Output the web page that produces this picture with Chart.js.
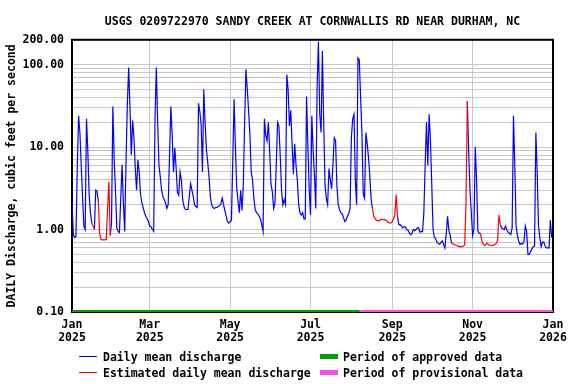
<!DOCTYPE html>
<html>
<head>
<meta charset="utf-8">
<script src="https://cdn.jsdelivr.net/npm/chart.js@4.4.1/dist/chart.umd.min.js"></script>
<style>
  body { margin: 0; background: #fff; }
  #wrap { position: relative; width: 576px; height: 384px; }
  #legend { position: absolute; left: 0; top: 0; width: 576px; height: 384px; pointer-events: none;
            font: bold 11.5px 'DejaVu Sans Mono', monospace; color: #000; }
  .item { position: absolute; height: 16px; line-height: 16px; white-space: pre; }
  .swatch { position: absolute; width: 18px; }
</style>
</head>
<body>
<div id="wrap">
  <canvas id="graph" width="576" height="384"></canvas>
  <div id="legend"></div>
</div>
<script>
var titleText = "USGS 0209722970 SANDY CREEK AT CORNWALLIS RD NEAR DURHAM, NC";
var yAxisTitle = "DAILY Discharge, cubic feet per second";

// daily mean discharge, cfs, Jan 1 2025 .. Dec 31 2025 (day 0 = Jan 1)
var dailyFlow = [
    2.2, 0.87, 0.8, 0.83, 5.5, 24, 15, 6, 2.5, 1.1,
    1.0, 22, 9, 2.7, 1.6, 1.2, 1.1, 1.0, 3.0, 2.9,
    2.2, 0.9, 0.76, 0.75, 0.75, 0.75, 0.76, 1.8, 3.8, 0.85,
    1.2, 31, 7, 3.0, 1.05, 0.95, 0.92, 2.4, 6.1, 2.1,
    0.95, 6.8, 33, 92, 30, 8, 21, 13, 5.6, 3.0,
    7, 5, 2.7, 2.1, 1.85, 1.6, 1.45, 1.35, 1.25, 1.1,
    1.08, 1.0, 0.95, 22, 92, 20, 6, 4.3, 3.0, 2.5,
    2.3, 2.1, 1.8, 2.0, 7.8, 31, 14, 5, 9.8, 5.6,
    2.8, 2.6, 5, 4.0, 2.3, 1.9, 1.75, 1.75, 1.75, 2.5,
    3.6, 3.0, 2.5, 2.0, 1.9, 1.85, 34, 27, 19, 5,
    50, 20, 9.4, 6.5, 4.3, 2.5, 2.0, 1.85, 1.8, 1.85,
    1.85, 1.9, 1.95, 2.05, 2.4, 2.0, 1.7, 1.45, 1.25, 1.2,
    1.25, 1.3, 7, 38, 10, 3.2, 2.2, 1.6, 3.0, 1.7,
    3.5, 20, 88, 50, 28, 14, 5.0, 4.0, 2.4, 1.75,
    1.6, 1.55, 1.45, 1.35, 1.15, 0.95, 22, 14, 12, 20,
    9, 3.5, 2.9, 1.8, 2.1, 6, 20, 18, 8, 3,
    2.0, 2.3, 2.0, 76, 50, 18, 28, 11, 4.7, 11,
    6, 4, 2.0, 1.6, 1.5, 1.6, 1.35, 1.35, 41, 10,
    3, 1.5, 24, 9, 4.5, 1.8, 55, 190, 25, 15,
    146, 20, 3.5, 2.4, 2.0, 5.5, 4, 3.1, 6, 13,
    12, 3.5, 2.0, 1.75, 1.6, 1.55, 1.4, 1.25, 1.3, 1.45,
    1.55, 1.8, 13, 22, 25, 4, 2.0, 121, 115, 40,
    15, 2.7, 2.4, 15, 11, 7.5, 4.5, 2.3, 1.8, 1.45,
    1.35, 1.3, 1.28, 1.27, 1.32, 1.33, 1.32, 1.32, 1.3, 1.27,
    1.22, 1.2, 1.2, 1.25, 1.35, 1.5, 2.66, 1.45, 1.15, 1.15,
    1.1, 1.05, 1.08, 1.08, 1.0, 0.98, 0.91, 0.87, 0.9, 1.0,
    0.97, 1.0, 1.05, 1.05, 0.93, 0.95, 0.94, 1.6, 6, 20,
    6, 25, 12, 3.5, 1.0, 0.8, 0.77, 0.7, 0.68, 0.66,
    0.7, 0.73, 0.66, 0.6, 0.9, 1.45, 0.97, 0.85, 0.68, 0.67,
    0.66, 0.65, 0.64, 0.63, 0.62, 0.62, 0.62, 0.63, 0.65, 2.2,
    36, 9, 3.0, 1.6, 0.85, 1.0, 10, 4.0, 0.95, 0.9,
    0.9, 0.72, 0.67, 0.64, 0.66, 0.68, 0.66, 0.64, 0.64, 0.64,
    0.65, 0.66, 0.68, 0.75, 1.5, 1.15, 1.05, 1.02, 1.0, 1.1,
    0.98, 0.93, 0.9, 0.87, 1.05, 24, 6, 1.1, 0.85, 0.72,
    0.66, 0.68, 0.67, 0.72, 1.1, 0.95, 0.5, 0.5, 0.54, 0.58,
    0.62, 0.63, 15, 5, 1.1, 0.8, 0.62, 0.7, 0.71, 0.63,
    0.6, 0.6, 0.6, 1.3, 0.8
];

// day ranges (inclusive) where the daily value is estimated
var estimatedRanges = [[15, 17], [20, 29], [228, 247], [288, 300], [310, 325]];

var approvedPeriod = [0, 218];
var provisionalPeriod = [218, 365];

var monthTickDays = [0, 59, 120, 181, 243, 304, 365];
var monthTickLabels = [["Jan", "2025"], ["Mar", "2025"], ["May", "2025"], ["Jul", "2025"],
                       ["Sep", "2025"], ["Nov", "2025"], ["Jan", "2026"]];

var yLabelValues = [0.1, 1, 10, 100, 200];

var legendItems = [
    { text: "Daily mean discharge", color: "#0000ff", thick: false, left: 79, top: 349 },
    { text: "Estimated daily mean discharge", color: "#ff0000", thick: false, left: 79, top: 365 },
    { text: "Period of approved data", color: "#00a000", thick: true, left: 320, top: 349 },
    { text: "Period of provisional data", color: "#ff4fe0", thick: true, left: 320, top: 365 }
];

var FONT = "'DejaVu Sans Mono', monospace";

function inRange(i, strict) {
    for (var k = 0; k < estimatedRanges.length; k++) {
        var r = estimatedRanges[k];
        if (strict ? (i > r[0] && i < r[1]) : (i >= r[0] && i <= r[1])) return true;
    }
    return false;
}

var blueData = dailyFlow.map(function(v, i) { return { x: i, y: inRange(i, true) ? null : v }; });
var redData = dailyFlow.map(function(v, i) { return { x: i, y: inRange(i, false) ? v : null }; });

function yGridValues() {
    var out = [];
    for (var e = -1; e <= 1; e++) {
        for (var m = 1; m <= 9; m++) out.push(+(m * Math.pow(10, e)).toFixed(4));
    }
    out.push(100, 200);
    return out;
}

var framePlugin = {
    id: "frame",
    afterLayout: function(chart) {
        // centre the title over the plot, like the reference
        if (chart.titleBlock) {
            chart.titleBlock.left = chart.chartArea.left;
            chart.titleBlock.right = chart.chartArea.right;
        }
    },
    beforeDatasetsDraw: function(chart) {
        var a = chart.chartArea, ctx = chart.ctx;
        ctx.save();
        ctx.strokeStyle = "#000";
        ctx.lineWidth = 2;
        ctx.strokeRect(a.left, a.top, a.right - a.left, a.bottom - a.top);
        ctx.restore();
    }
};

Chart.defaults.font.family = FONT;
Chart.defaults.font.weight = "bold";
Chart.defaults.font.size = 11.5;
Chart.defaults.color = "#000";

var chart = new Chart(document.getElementById("graph").getContext("2d"), {
    type: "line",
    data: {
        datasets: [
            { label: "Estimated daily mean discharge", data: redData, borderColor: "#ff0000",
              borderWidth: 1.2, pointRadius: 0, tension: 0, spanGaps: false },
            { label: "Daily mean discharge", data: blueData, borderColor: "#0000ff",
              borderWidth: 1.2, pointRadius: 0, tension: 0, spanGaps: false },
            { label: "Period of approved data", data: [{ x: approvedPeriod[0], y: 0.1 }, { x: approvedPeriod[1], y: 0.1 }],
              borderColor: "#00a000", borderWidth: 4, pointRadius: 0 },
            { label: "Period of provisional data", data: [{ x: provisionalPeriod[0], y: 0.1 }, { x: provisionalPeriod[1], y: 0.1 }],
              borderColor: "#ff4fe0", borderWidth: 4, pointRadius: 0 }
        ]
    },
    options: {
        responsive: false,
        animation: false,
        layout: { padding: { left: 0, right: 23, top: 0, bottom: 32 } },
        plugins: {
            legend: { display: false },
            tooltip: { enabled: false },
            title: {
                display: true,
                text: titleText,
                color: "#000",
                font: { family: FONT, size: 11.5, weight: "bold", lineHeight: 1.2 },
                padding: { top: 15, bottom: 11 }
            }
        },
        scales: {
            x: {
                type: "linear",
                min: 0,
                max: 365,
                afterBuildTicks: function(scale) {
                    scale.ticks = monthTickDays.map(function(d) { return { value: d }; });
                },
                afterFit: function(scale) { scale.height = 40; },
                ticks: {
                    autoSkip: false,
                    maxRotation: 0,
                    padding: 7,
                    font: { family: FONT, size: 11.5, weight: "bold", lineHeight: 1.13 },
                    callback: function(value, index) { return monthTickLabels[index]; }
                },
                grid: { color: "#c8c8c8", lineWidth: 1, drawTicks: false },
                border: { display: false }
            },
            y: {
                type: "logarithmic",
                min: 0.1,
                max: 200,
                afterBuildTicks: function(scale) {
                    scale.ticks = yGridValues().map(function(v) { return { value: v }; });
                },
                afterFit: function(scale) { scale.width = 72; },
                ticks: {
                    autoSkip: false,
                    padding: 8,
                    callback: function(value) {
                        for (var k = 0; k < yLabelValues.length; k++) {
                            if (Math.abs(yLabelValues[k] - value) < 1e-6) return value.toFixed(2);
                        }
                        return "";
                    }
                },
                grid: { color: "#c8c8c8", lineWidth: 1, drawTicks: false },
                border: { display: false },
                title: {
                    display: true,
                    text: yAxisTitle,
                    color: "#000",
                    font: { family: FONT, size: 11.5, weight: "bold", lineHeight: 1.2 },
                    padding: { top: 5, bottom: 0 }
                }
            }
        }
    },
    plugins: [framePlugin]
});

var legend = document.getElementById("legend");
legendItems.forEach(function(it) {
    var row = document.createElement("div");
    row.className = "item";
    row.style.left = it.left + "px";
    row.style.top = it.top + "px";
    var sw = document.createElement("div");
    sw.className = "swatch";
    sw.style.left = "0px";
    sw.style.height = (it.thick ? 5 : 1) + "px";
    sw.style.top = (it.thick ? 5 : 7) + "px";
    sw.style.background = it.color;
    var tx = document.createElement("span");
    tx.style.position = "absolute";
    tx.style.left = (it.thick ? 23 : 24) + "px";
    tx.textContent = it.text;
    row.appendChild(sw);
    row.appendChild(tx);
    legend.appendChild(row);
});
</script>
</body>
</html>
